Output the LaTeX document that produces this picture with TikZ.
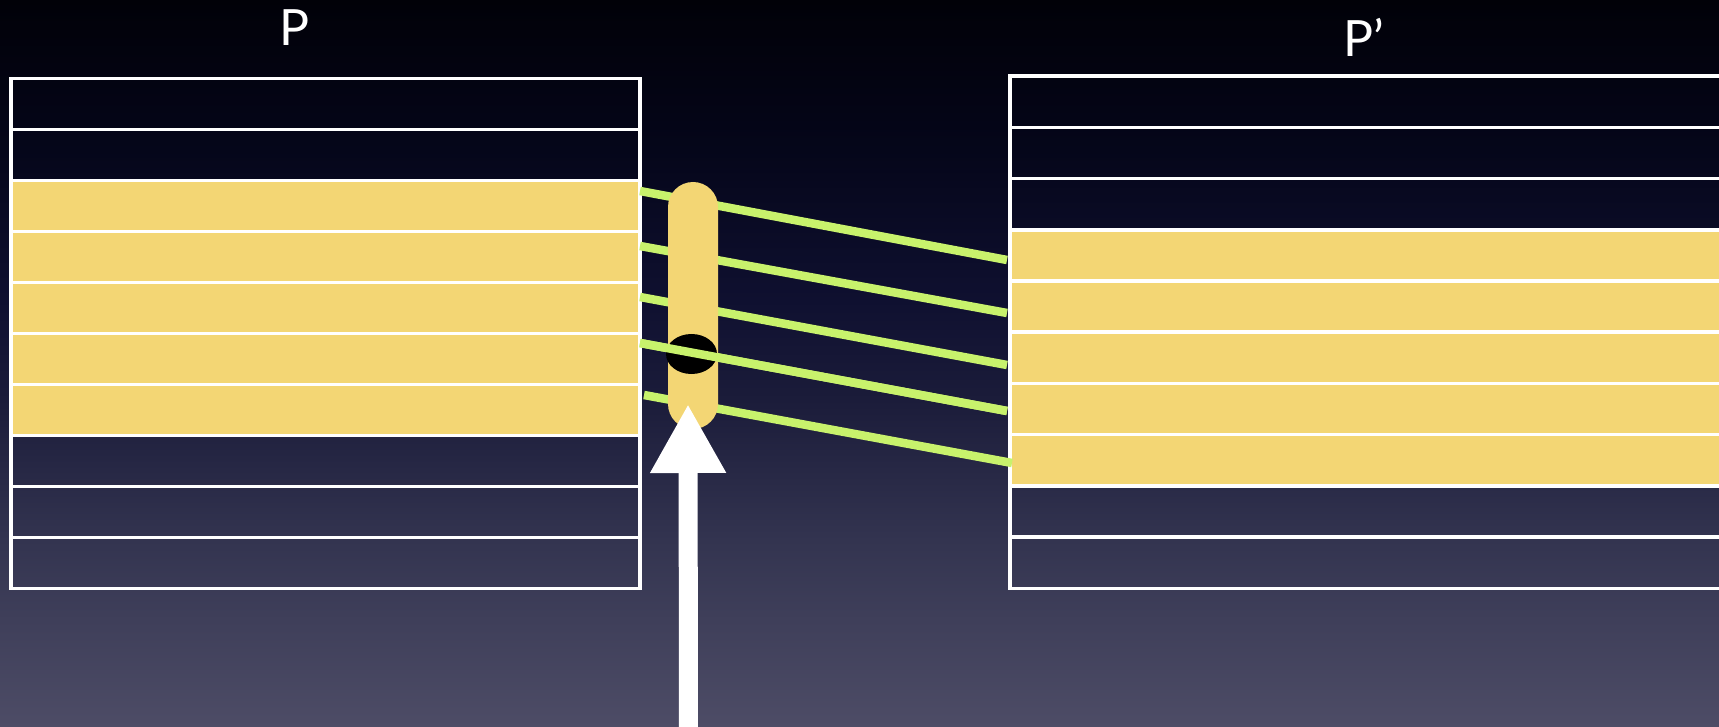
\documentclass[tikz,border=0pt]{standalone}
\usepackage{fontspec}
\setmainfont{Lato}
\usetikzlibrary{arrows.meta,shapes.geometric}
\definecolor{bg0}{HTML}{010108}
\definecolor{bg1}{HTML}{05061A}
\definecolor{bg2}{HTML}{0F1030}
\definecolor{bg3}{HTML}{1B1C3A}
\definecolor{bg4}{HTML}{333450}
\definecolor{bg5}{HTML}{3F3F5A}
\definecolor{bg6}{HTML}{4D4C66}
\definecolor{slotyellow}{HTML}{F3D674}
\definecolor{linkgreen}{HTML}{C8F26C}
% y(px) -> bp = 25 + 50*(727-y)/727
\pgfdeclareverticalshading{bgshade}{100bp}{%
  color(0bp)=(bg6); color(25bp)=(bg6);
  color(32.36bp)=(bg5); color(37.86bp)=(bg4);
  color(47.49bp)=(bg3); color(54.37bp)=(bg2);
  color(64.68bp)=(bg1); color(75bp)=(bg0); color(100bp)=(bg0)}
\tikzset{
  slotbase/.style={draw=white, line width=3.5pt, inner sep=0pt, anchor=north west},
  emptyslot/.style={slotbase},
  fullslot/.style={slotbase, fill=slotyellow},
  leftrow/.style={minimum width=629pt, minimum height=50.95pt},
  rightrow/.style={minimum width=760pt, minimum height=51.2pt},
  greenlink/.style={draw=linkgreen, line width=8.5pt},
  titletext/.style={text=white, font=\fontsize{50}{58}\selectfont, anchor=base, inner sep=0pt},
}
\begin{document}
\begin{tikzpicture}[x=1pt,y=-1pt]
\useasboundingbox (0,0) rectangle (1719,727);
\fill[shading=bgshade] (0,0) rectangle (1719,727);

% left array P
\foreach \i/\s in {0/emptyslot,1/emptyslot,2/fullslot,3/fullslot,4/fullslot,5/fullslot,6/fullslot,7/emptyslot,8/emptyslot,9/emptyslot}{
  \node[\s, leftrow] (L\i) at (9, {77+\i*50.95}) {};
}
% right array P'
\foreach \i/\s in {0/emptyslot,1/emptyslot,2/emptyslot,3/fullslot,4/fullslot,5/fullslot,6/fullslot,7/fullslot,8/emptyslot,9/emptyslot}{
  \node[\s, rightrow] (R\i) at (1008, {74.5+\i*51.2}) {};
}

% labels
\node[titletext] (lblP) at (295,46) {P};
\node[titletext] (lblPp) at (1364,57) {P’};

% link end points
\coordinate (a1) at (640,191);  \coordinate (b1) at (1007,260);
\coordinate (a2) at (640,246);  \coordinate (b2) at (1007,313);
\coordinate (a3) at (640,297);  \coordinate (b3) at (1007,365);
\coordinate (a4) at (640,343);  \coordinate (b4) at (1007,411);
\coordinate (a5) at (644,395);  \coordinate (b5) at (1012,463);

\foreach \k in {1,2,3,4,5}{
  \draw[greenlink] (a\k) -- (b\k);
}

% pill (window)
\node[fill=slotyellow, rounded corners=25pt, minimum width=50pt, minimum height=247pt, inner sep=0pt] (pill) at (693,305.5) {};
% black hole
\node[fill=black, ellipse, minimum width=51pt, minimum height=40pt, inner sep=0pt] (hole) at (691.5,354) {};
\draw[greenlink] (a4) -- (b4);

% arrow
\coordinate (abot) at (688.5,740);
\coordinate (atip) at (688,404);
\draw[white, line width=19pt, -{Triangle[length=69pt, width=71pt]}] (abot) -- (atip);
\end{tikzpicture}
\end{document}
